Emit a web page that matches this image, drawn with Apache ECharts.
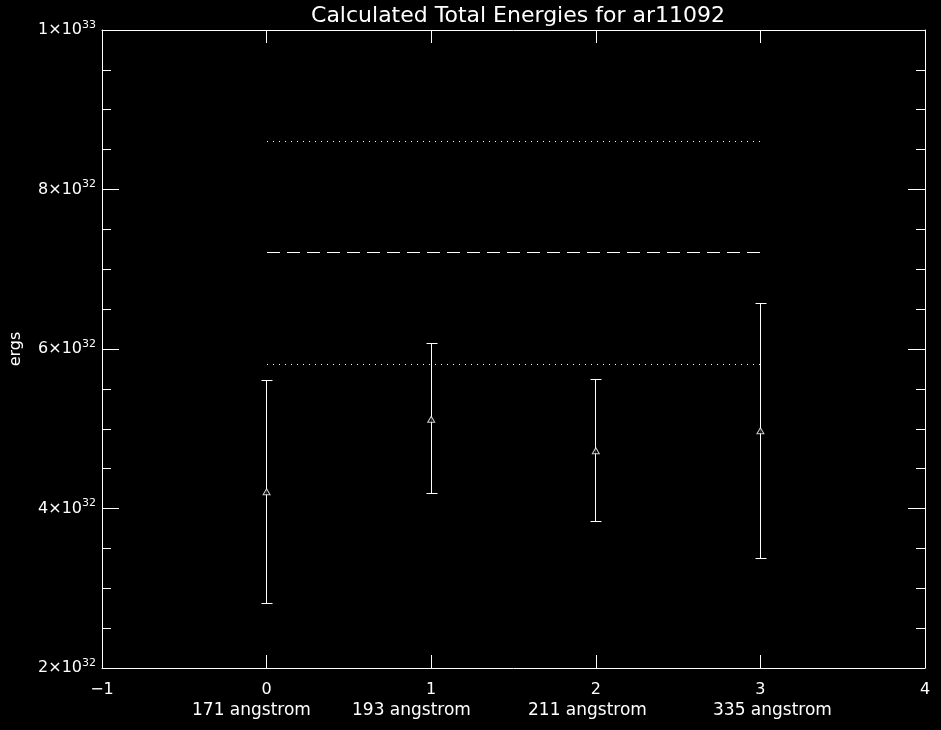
<!DOCTYPE html>
<html>
<head>
<meta charset="utf-8">
<script src="https://cdn.jsdelivr.net/npm/echarts@6/dist/echarts.min.js"></script>
<style>html,body{margin:0;padding:0;background:#000;}#c{width:941px;height:730px;}</style>
</head>
<body>
<div id="c"></div>
<script>
const titleText = 'Calculated Total Energies for ar11092';
const yAxisName = 'ergs';
const xPositions = [0, 1, 2, 3];
const categoryNames = ['171 angstrom', '193 angstrom', '211 angstrom', '335 angstrom'];
const energies = [4.21e32, 5.12e32, 4.725e32, 4.975e32];
const errLow = [2.815e32, 4.19e32, 3.84e32, 3.375e32];
const errHigh = [5.61e32, 6.07e32, 5.62e32, 6.575e32];
const upperDotted = 8.60e32;
const meanDashed = 7.21e32;
const lowerDotted = 5.81e32;
const yTicks = [2e32, 4e32, 6e32, 8e32, 1e33];
const xTicks = [-1, 0, 1, 2, 3, 4];

const FONT = 'DejaVu Sans';
const chart = echarts.init(document.getElementById('c'), null, {renderer: 'canvas'});

function yFmt(v) {
  const e = Math.floor(Math.log10(v) + 1e-9);
  const m = Math.round(v / Math.pow(10, e));
  return m + '×10{sup|' + e + '}';
}
function xFmt(v) {
  return v < 0 ? '\u2212' + Math.abs(v) : String(v);
}
const snap = (p) => Math.round(p - 0.5) + 0.5;

const axisCommonY = {
  type: 'value', min: yTicks[0], max: yTicks[yTicks.length - 1], interval: yTicks[1] - yTicks[0],
  axisLine: {show: true, onZero: false, lineStyle: {color: '#fff', width: 1}},
  axisTick: {show: true, inside: true, length: 17, lineStyle: {color: '#fff', width: 1}},
  minorTick: {show: true, splitNumber: 4, length: 9, lineStyle: {color: '#fff', width: 1}},
  splitLine: {show: false}, minorSplitLine: {show: false}
};
const axisCommonX = {
  type: 'value', min: xTicks[0], max: xTicks[xTicks.length - 1], interval: 1,
  axisLine: {show: true, onZero: false, lineStyle: {color: '#fff', width: 1}},
  axisTick: {show: true, inside: true, length: 13, lineStyle: {color: '#fff', width: 1}},
  splitLine: {show: false}
};

const refLine = (val, dash) => ({
  type: 'custom', xAxisIndex: 0, yAxisIndex: 0, silent: true,
  data: [[xPositions[0], xPositions[xPositions.length - 1], val]],
  renderItem: function (params, api) {
    const a = api.coord([api.value(0), api.value(2)]);
    const b = api.coord([api.value(1), api.value(2)]);
    const y = snap(a[1]);
    return {type: 'line', shape: {x1: Math.round(a[0]), y1: y, x2: Math.round(b[0]) + 1, y2: y},
      style: {stroke: '#fff', lineWidth: 1, lineDash: dash}};
  }
});

chart.setOption({
  backgroundColor: '#000',
  animation: false,
  title: {
    text: titleText, left: 513, textAlign: 'center', top: 0,
    textStyle: {color: '#fff', fontFamily: FONT, fontSize: 22, fontWeight: 'normal'}
  },
  grid: {left: 102, top: 30, width: 823, height: 638, containLabel: false},
  xAxis: [
    Object.assign({}, axisCommonX, {
      position: 'bottom',
      axisLabel: {show: true, color: '#fff', fontFamily: FONT, fontSize: 16, margin: 14, formatter: xFmt, showMinLabel: true, showMaxLabel: true}
    }),
    Object.assign({}, axisCommonX, {position: 'top', axisLabel: {show: false}})
  ],
  yAxis: [
    Object.assign({}, axisCommonY, {
      position: 'left',
      name: yAxisName, nameLocation: 'middle', nameGap: 78, nameRotate: 90,
      nameTextStyle: {color: '#fff', fontFamily: FONT, fontSize: 16},
      axisLabel: {
        show: true, color: '#fff', fontFamily: FONT, fontSize: 16, margin: 6, formatter: yFmt,
        rich: {sup: {fontSize: 11, fontFamily: FONT, color: '#fff', padding: [0, 0, 10, 0]}}
      }
    }),
    Object.assign({}, axisCommonY, {position: 'right', axisLabel: {show: false}})
  ],
  graphic: categoryNames.map((name, i) => ({
    type: 'text', silent: true,
    left: [192, 352, 528, 713][i], top: 702,
    style: {text: name, fill: '#fff', font: '17px "' + FONT + '"'}
  })),
  series: [
    refLine(upperDotted, [1, 5]),
    refLine(meanDashed, [13, 7]),
    refLine(lowerDotted, [1, 5]),
    {
      type: 'custom', xAxisIndex: 0, yAxisIndex: 0, silent: true,
      data: xPositions.map((x, i) => [x, errLow[i], errHigh[i]]),
      renderItem: function (params, api) {
        const lo = api.coord([api.value(0), api.value(1)]);
        const hi = api.coord([api.value(0), api.value(2)]);
        const x = snap(lo[0]);
        const yl = snap(lo[1]), yh = snap(hi[1]);
        const w = 5;
        const st = {stroke: '#fff', lineWidth: 1};
        return {
          type: 'group', children: [
            {type: 'line', shape: {x1: x, y1: yl, x2: x, y2: yh}, style: st},
            {type: 'line', shape: {x1: x - w, y1: yl, x2: x + w + 1, y2: yl}, style: st},
            {type: 'line', shape: {x1: x - w, y1: yh, x2: x + w + 1, y2: yh}, style: st}
          ]
        };
      }
    },
    {
      type: 'scatter', xAxisIndex: 0, yAxisIndex: 0, silent: true,
      symbol: 'triangle', symbolSize: [7, 6],
      itemStyle: {color: '#000', borderColor: '#fff', borderWidth: 1},
      data: xPositions.map((x, i) => [x, energies[i]]),
      z: 5
    }
  ]
});
</script>
</body>
</html>
